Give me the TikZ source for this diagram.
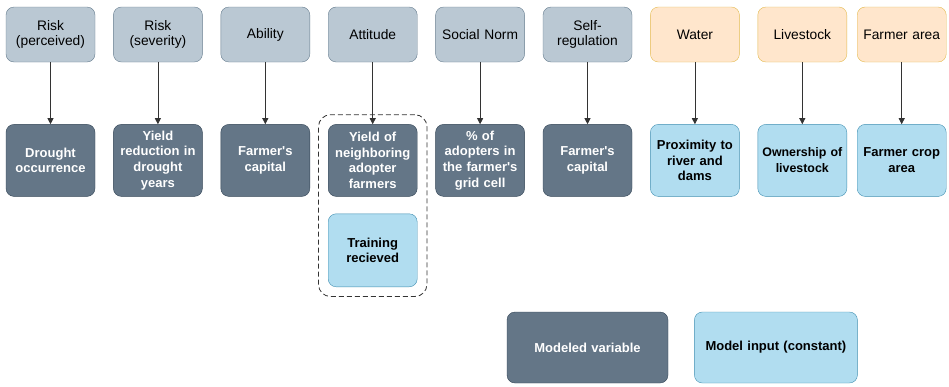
\documentclass[tikz,border=0pt]{standalone}
\usepackage{fontspec}
\setmainfont{Liberation Sans}
\usetikzlibrary{arrows.meta,positioning,fit}
\definecolor{factor}{HTML}{BAC8D3}
\definecolor{factorline}{HTML}{23445D}
\definecolor{modeled}{HTML}{647687}
\definecolor{modeledline}{HTML}{314354}
\definecolor{inputc}{HTML}{B1DDF0}
\definecolor{inputline}{HTML}{10739E}
\definecolor{extra}{HTML}{FFE6CC}
\definecolor{extraline}{HTML}{D79B00}
\definecolor{muted}{HTML}{333333}
\tikzset{
  factorbox/.style={
    draw=factorline!70, fill=factor, rounded corners=8pt,
    minimum width=89pt, minimum height=55pt, text width=87pt,
    align=center, font=\fontsize{13.8}{15.5}\selectfont, inner sep=1pt
  },
  extrabox/.style={factorbox, draw=extraline!70, fill=extra},
  modelbox/.style={
    draw=modeledline, fill=modeled, rounded corners=8pt,
    minimum width=89pt, minimum height=72pt, text width=88pt,
    align=center, text=white, font=\fontsize{13}{15.8}\selectfont\bfseries, inner sep=0.5pt
  },
  inputbox/.style={modelbox, draw=inputline!80, fill=inputc, text=black},
  arrow/.style={-{Triangle[length=6pt,width=6pt]}, draw=muted, line width=0.8pt},
  group/.style={draw=black!80, dashed, dash pattern=on 5pt off 3pt, rounded corners=12pt, line width=0.8pt}
}
\newcommand{\apos}{\textquotesingle}
\begin{document}
\begin{tikzpicture}[x=1pt, y=1pt]
  \useasboundingbox (0,0) rectangle (949,-386);
  % psychological factors
  \node[factorbox] (rp) at (50.5,-34.5) {Risk\\(perceived)};
  \node[factorbox, right=18pt of rp] (rs) {Risk\\(severity)};
  \node[factorbox, right=18pt of rs] (ab) {Ability};
  \node[factorbox, right=18pt of ab] (at) {Attitude};
  \node[factorbox, right=18pt of at] (sn) {Social Norm};
  \node[factorbox, right=18pt of sn] (sr) {Self-\\regulation};
  \node[extrabox, right=18pt of sr] (wa) {Water};
  \node[extrabox, right=18pt of wa] (ls) {Livestock};
  \node[extrabox, right=10pt of ls] (fa) {Farmer area};
  % model variables
  \node[modelbox, below=62pt of rp] (dro) {Drought\\occurrence};
  \node[modelbox, below=62pt of rs] (yrd) {Yield\\reduction in\\drought\\years};
  \node[modelbox, below=62pt of ab] (cap1) {Farmer\apos s\\capital};
  \node[modelbox, below=62pt of at] (yna) {Yield of\\neighboring\\adopter\\farmers};
  \node[inputbox, below=17pt of yna, minimum height=73pt] (tr) {Training\\recieved};
  \node[modelbox, below=62pt of sn] (pad) {\% of\\adopters in\\the farmer\apos s\\grid cell};
  \node[modelbox, below=62pt of sr] (cap2) {Farmer\apos s\\capital};
  \node[inputbox, below=62pt of wa] (prx) {Proximity to\\river and\\dams};
  \node[inputbox, below=62pt of ls, font=\fontsize{12.4}{15.8}\selectfont\bfseries] (own) {Ownership of\\livestock};
  \node[inputbox, below=62pt of fa] (crop) {Farmer crop\\area};
  \node[group, fit=(yna) (tr), inner xsep=9.5pt, inner ysep=9.5pt] (grp) {};
  \foreach \a/\b in {rp/dro, rs/yrd, ab/cap1, at/yna, sn/pad, sr/cap2, wa/prx, ls/own, fa/crop}
    \draw[arrow] (\a) -- (\b);
  % legend
  \node[modelbox, minimum width=161pt, minimum height=71pt, text width=155pt] (lgm) at (587.5,-347.5) {Modeled variable};
  \node[inputbox, minimum width=163pt, minimum height=71pt, text width=158pt, right=26pt of lgm] (lgi) {Model input (constant)};
\end{tikzpicture}
\end{document}
